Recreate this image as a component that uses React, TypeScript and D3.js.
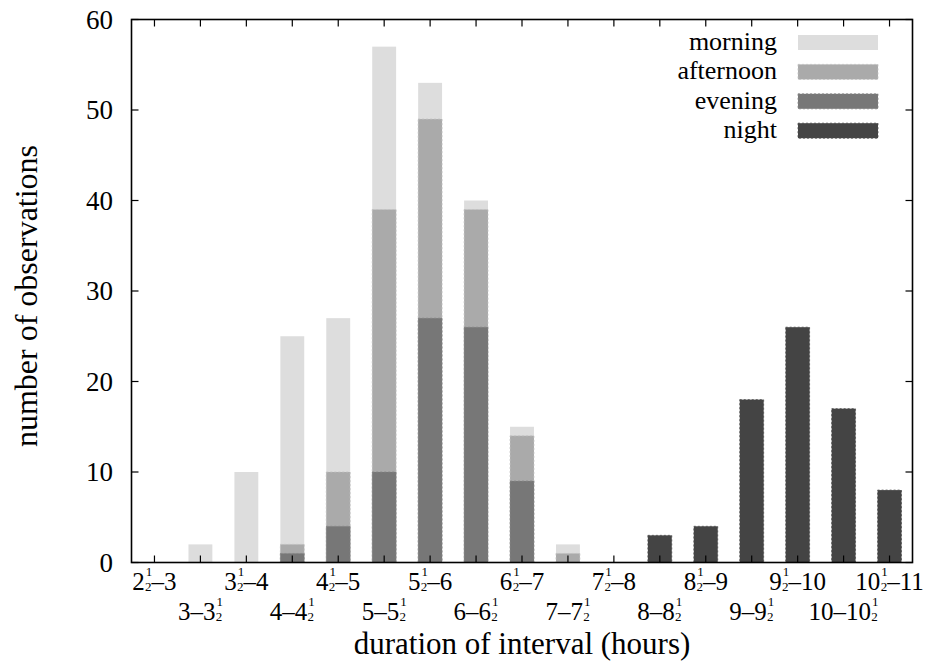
import React from "react";
import * as d3 from "d3";

const categories = [
  "2½–3", "3–3½", "3½–4", "4–4½", "4½–5", "5–5½", "5½–6", "6–6½", "6½–7",
  "7–7½", "7½–8", "8–8½", "8½–9", "9–9½", "9½–10", "10–10½", "10½–11",
];
const morning = [0, 2, 10, 25, 27, 57, 53, 40, 15, 2, 0, 0, 0, 0, 0, 0, 0];
const afternoon = [0, 0, 0, 2, 10, 39, 49, 39, 14, 1, 0, 0, 0, 0, 0, 0, 0];
const evening = [0, 0, 0, 1, 4, 10, 27, 26, 9, 0, 0, 0, 0, 0, 0, 0, 0];
const night = [0, 0, 0, 0, 0, 0, 0, 0, 0, 0, 0, 3, 4, 18, 26, 17, 8];
const seriesNames = ["morning", "afternoon", "evening", "night"];
const seriesColors = ["#dddddd", "#aaaaaa", "#777777", "#444444"];
const yTicks = [0, 10, 20, 30, 40, 50, 60];

const W = 933;
const H = 661;
const L = 131.5, R = 912.5, T = 19.5, B = 562.5;
const FONT = "Liberation Serif, Tinos, DejaVu Serif, Noto Serif, serif";

function TickLabel({ text, x, y }: { text: string; x: number; y: number }) {
  const big = 25;
  const small = 13;
  const parts = text.split("½");
  const children: React.ReactNode[] = [];
  parts.forEach((p, i) => {
    if (p.length) {
      children.push(
        <tspan key={"p" + i} fontSize={big} dy={i === 0 ? 0 : -1}>
          {p}
        </tspan>
      );
    }
    if (i < parts.length - 1) {
      children.push(
        <tspan key={"n" + i} fontSize={small} dx={1} dy={-14}>1</tspan>,
        <tspan key={"d" + i} fontSize={small} dx={-small * 0.556} dy={15}>2</tspan>
      );
    }
  });
  return (
    <text x={x} y={y} textAnchor="middle" style={{ fontFamily: FONT }} fill="#000">
      {children}
    </text>
  );
}

export default function App() {
  const x = d3
    .scaleBand<string>()
    .domain(categories)
    .range([L, R])
    .paddingInner(0.48)
    .paddingOuter(0.24);
  const y = d3.scaleLinear().domain([0, 60]).range([B, T]);
  const data = [morning, afternoon, evening, night];
  const bw = x.bandwidth();
  const tickLen = 7;

  return (
    <svg
      width={W}
      height={H}
      style={{ position: "absolute", left: 0, top: 0, background: "#fff", fontFamily: FONT }}
    >
      {data.map((vals, si) =>
        vals.map((v, i) =>
          v > 0 ? (
            <rect
              key={si + "-" + i}
              x={x(categories[i])!}
              y={y(v)}
              width={bw}
              height={y(0) - y(v)}
              fill={seriesColors[si]}
              stroke={d3.color(seriesColors[si])!.brighter(0.35).formatHex()}
              strokeWidth={si === 0 ? 0 : 0.8}
              strokeDasharray="2 2"
            />
          ) : null
        )
      )}
      {categories.map((c) => {
        const cx = x(c)! + bw / 2;
        return (
          <g key={"t" + c}>
            <line x1={cx} x2={cx} y1={B} y2={B - tickLen} stroke="#000" strokeWidth={1.2} />
            <line x1={cx} x2={cx} y1={T} y2={T + tickLen} stroke="#000" strokeWidth={1.2} />
          </g>
        );
      })}
      {yTicks.map((t) => (
        <g key={"y" + t}>
          <line x1={L} x2={L + tickLen} y1={y(t)} y2={y(t)} stroke="#000" strokeWidth={1.2} />
          <line x1={R} x2={R - tickLen} y1={y(t)} y2={y(t)} stroke="#000" strokeWidth={1.2} />
          <text
            x={113}
            y={y(t)}
            dy="0.35em"
            textAnchor="end"
            style={{ fontFamily: FONT }}
            fontSize={27}
          >
            {t}
          </text>
        </g>
      ))}
      <rect x={L} y={T} width={R - L} height={B - T} fill="none" stroke="#000" strokeWidth={1.6} />
      {categories.map((c, i) => (
        <TickLabel key={"l" + c} text={c} x={x(c)! + bw / 2} y={i % 2 === 0 ? 590 : 620} />
      ))}
      <text
        x={(L + R) / 2}
        y={654}
        textAnchor="middle"
        style={{ fontFamily: FONT }}
        fontSize={31}
      >
        duration of interval (hours)
      </text>
      <text
        transform={`translate(37, ${(T + B) / 2 + 5}) rotate(-90)`}
        textAnchor="middle"
        style={{ fontFamily: FONT }}
        fontSize={32}
      >
        number of observations
      </text>
      {seriesNames.map((name, i) => {
        const cy = 42.5 + i * 29.4;
        return (
          <g key={"lg" + name}>
            <text
              x={777}
              y={cy + 7.5}
              textAnchor="end"
              style={{ fontFamily: FONT }}
              fontSize={26}
            >
              {name}
            </text>
            <rect
              x={798}
              y={cy - 7.5}
              width={80}
              height={15}
              fill={seriesColors[i]}
              stroke={d3.color(seriesColors[i])!.brighter(0.35).formatHex()}
              strokeWidth={i === 0 ? 0 : 0.8}
              strokeDasharray="2 2"
            />
          </g>
        );
      })}
    </svg>
  );
}
